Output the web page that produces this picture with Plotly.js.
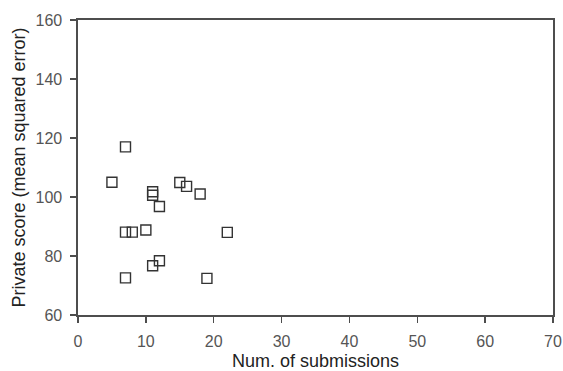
<!DOCTYPE html>
<html><head><meta charset="utf-8">
<script src="https://cdn.plot.ly/plotly-3.0.1.min.js"></script>
<style>html,body{margin:0;padding:0;background:#fff}#c{width:563px;height:371px}</style>
</head><body><div id="c"></div>
<script>
const submissions = [7, 5, 11, 11, 15, 16, 18, 12, 7, 8, 10, 22, 11, 12, 7, 19];
const privateScore = [117, 105, 101.8, 100.6, 104.9, 103.6, 101, 96.8, 88.1, 88.1, 88.8, 88, 76.7, 78.4, 72.6, 72.4];
const xTicks = [0, 10, 20, 30, 40, 50, 60, 70];
const yTicks = [60, 80, 100, 120, 140, 160];

const trace = {
  x: submissions, y: privateScore, type: 'scatter', mode: 'markers',
  marker: {symbol: 'square-open', size: 10, color: '#333', line: {width: 1.4, color: '#333'}},
  hoverinfo: 'none'
};
const axisCommon = {
  showline: true, mirror: true, linecolor: '#4d4d4d', linewidth: 1.6,
  ticks: 'outside', ticklen: 6, tickwidth: 1.3, tickcolor: '#4d4d4d',
  showgrid: false, zeroline: false, ticklabelstandoff: 5,
  tickfont: {family: 'Liberation Sans, Arial, sans-serif', size: 16, color: '#555'}
};
const layout = {
  width: 563, height: 371,
  margin: {l: 78, r: 10, t: 20, b: 56},
  paper_bgcolor: '#fff', plot_bgcolor: '#fff',
  showlegend: false,
  xaxis: Object.assign({}, axisCommon, {
    range: [0, 70], tickvals: xTicks,
    title: {text: 'Num. of submissions', standoff: 5, font: {family: 'Liberation Sans, Arial, sans-serif', size: 18, color: '#222'}}
  }),
  yaxis: Object.assign({}, axisCommon, {
    range: [60, 160], tickvals: yTicks,
    title: {text: 'Private score (mean squared error)', standoff: 5, font: {family: 'Liberation Sans, Arial, sans-serif', size: 18, color: '#222'}}
  })
};
Plotly.newPlot('c', [trace], layout, {displayModeBar: false, staticPlot: true});
</script></body></html>
